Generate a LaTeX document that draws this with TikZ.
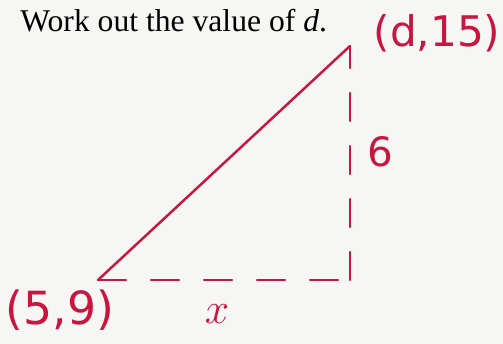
\documentclass[tikz,border=0pt]{standalone}
\usepackage{fontspec}
\setmainfont{Liberation Serif}
\newfontfamily\elyazi{DejaVu Sans}
\usetikzlibrary{positioning}
\definecolor{kalemKirmizi}{HTML}{C8163F}
\definecolor{kagitGri}{HTML}{F6F6F4}
\tikzset{
  kalem/.style={kalemKirmizi,line width=1.4pt,line cap=round},
  kesikKalem/.style={kalem,dash pattern=on 0.56cm off 0.5cm},
  notYazi/.style={kalemKirmizi,inner sep=0,font=\elyazi\fontsize{24}{26}\selectfont}
}

\begin{document}
\begin{tikzpicture}[x=1cm,y=1cm]
\fill[kagitGri] (0,0) rectangle (10.06,6.88);
\useasboundingbox (0,0) rectangle (10.06,6.88);
\node[anchor=base west,inner sep=0,font=\fontsize{18}{20}\selectfont] (soru) at (0.4,6.24) {Work out the value of \textit{d}.};
% ucgenin koseleri
\coordinate (alt) at (1.96,1.28);
\coordinate (tepe) at (7.0,5.96);
\coordinate (kose) at (7.0,1.28);
\draw[kalem] (alt)--(tepe);
\draw[kesikKalem] (alt)--(kose);
\draw[kesikKalem] (kose)--(tepe);
\node[notYazi] (tepeYazi) at (8.74,6.22) {(d,15)};
\node[notYazi,font=\elyazi\fontsize{23}{25}\selectfont] (dikey) at (7.6,3.84) {6};
\node[notYazi,font=\elyazi\fontsize{26}{28}\selectfont] (altYazi) at (1.2,0.68) {(5,9)};
\node[notYazi,font=\fontsize{26}{28}\selectfont] (yatay) at (4.34,0.6) {$x$};
\end{tikzpicture}
\end{document}
